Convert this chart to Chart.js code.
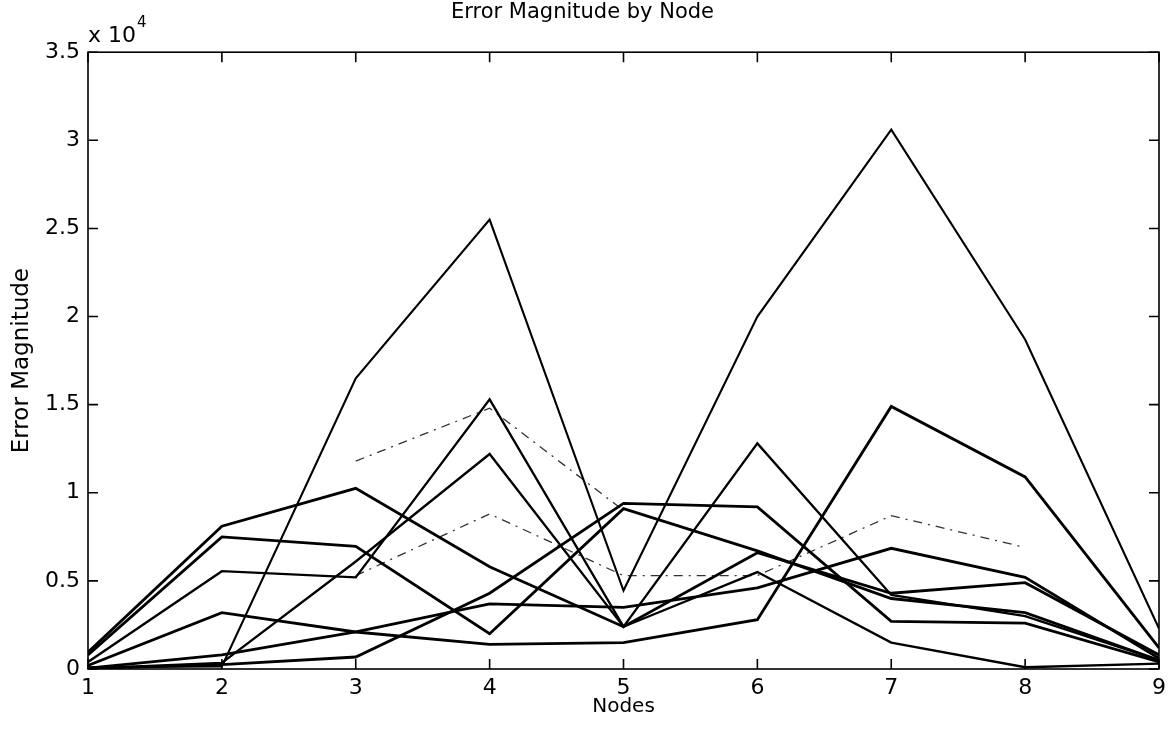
<!DOCTYPE html>
<html>
<head>
<meta charset="utf-8">
<title>Error Magnitude by Node</title>
<script src="https://cdn.jsdelivr.net/npm/chart.js@4.4.1/dist/chart.umd.min.js"></script>
<style>
  html, body { margin: 0; padding: 0; background: #fff; }
  #wrap { width: 1172px; height: 738px; }
</style>
</head>
<body>
<div id="wrap"><canvas id="errChart"></canvas></div>
<script>
// node numbers along the x axis
const nodes = [1, 2, 3, 4, 5, 6, 7, 8, 9];

// error magnitude per node, one array per run
const caseA = [100, 150, 16500, 25500, 4450, 20000, 30600, 18700, 2300];
const caseB = [950, 8100, 10250, 5800, 2400, 6600, 4300, 4900, 800];
const caseC = [800, 7500, 6960, 2000, 9100, 6700, 4000, 3200, 500];
const caseD = [400, 5550, 5200, 15300, 2400, 12800, 4200, 3000, 500];
const caseE = [200, 3200, 2100, 1400, 1500, 2800, 14900, 10900, 1200];
const caseF = [50, 800, 2100, 3700, 3500, 4600, 6850, 5200, 600];
const caseG = [30, 350, 6100, 12200, 2400, 5500, 1500, 100, 300];
const caseH = [30, 250, 680, 4300, 9400, 9200, 2700, 2600, 400];
// dash-dot runs, only partly legible
const caseI = [null, null, 11800, 14800, 9000, null, null, null, null];
const caseJ = [null, null, 5300, 8800, 5300, 5300, 8700, 6900, null];

const yTicks = [0, 5000, 10000, 15000, 20000, 25000, 30000, 35000];

const FONT = '"DejaVu Sans", Arial, sans-serif';

function pts(vals) {
  return nodes.map((n, i) => ({ x: n, y: vals[i] }));
}

function solid(vals, w) {
  return {
    data: pts(vals),
    borderColor: '#000',
    borderWidth: w,
    pointRadius: 0,
    tension: 0,
    spanGaps: false
  };
}

function dashDot(vals) {
  return {
    data: pts(vals),
    borderColor: '#333',
    borderWidth: 1.3,
    borderDash: [9, 6, 2, 6],
    pointRadius: 0,
    tension: 0,
    spanGaps: false
  };
}

// box around the axes, inward tick marks on all sides, and the x10^4 factor
const frameTicks = {
  id: 'frameTicks',
  afterDatasetsDraw(chart) {
    const { ctx, chartArea: a, scales: { x, y } } = chart;
    ctx.save();
    ctx.strokeStyle = '#000';
    ctx.lineWidth = 1.6;
    ctx.strokeRect(a.left, a.top, a.right - a.left, a.bottom - a.top);
    ctx.beginPath();
    x.ticks.forEach(t => {
      const px = x.getPixelForValue(t.value);
      ctx.moveTo(px, a.bottom); ctx.lineTo(px, a.bottom - 10);
      ctx.moveTo(px, a.top); ctx.lineTo(px, a.top + 10);
    });
    y.ticks.forEach(t => {
      const py = y.getPixelForValue(t.value);
      ctx.moveTo(a.left, py); ctx.lineTo(a.left + 10, py);
      ctx.moveTo(a.right, py); ctx.lineTo(a.right - 10, py);
    });
    ctx.stroke();

    ctx.fillStyle = '#000';
    ctx.textBaseline = 'alphabetic';
    ctx.textAlign = 'left';
    ctx.font = '22px ' + FONT;
    ctx.fillText('x 10', a.left, a.top - 10);
    const w = ctx.measureText('x 10').width;
    ctx.font = '15px ' + FONT;
    ctx.fillText('4', a.left + w + 1, a.top - 25);
    ctx.restore();
  }
};

new Chart(document.getElementById('errChart'), {
  type: 'line',
  data: {
    datasets: [
      solid(caseA, 2.1),
      solid(caseB, 2.8),
      solid(caseC, 2.8),
      solid(caseD, 2.3),
      solid(caseE, 2.8),
      solid(caseF, 2.8),
      solid(caseG, 2.3),
      solid(caseH, 2.8),
      dashDot(caseI),
      dashDot(caseJ)
    ]
  },
  options: {
    responsive: true,
    maintainAspectRatio: false,
    animation: false,
    layout: { padding: { top: 0, right: 7, bottom: 0, left: 0 } },
    plugins: {
      legend: { display: false },
      tooltip: { enabled: false },
      title: {
        display: true,
        text: 'Error Magnitude by Node',
        color: '#000',
        font: { family: FONT, size: 21, weight: 'normal' },
        padding: { top: 0, bottom: 27 }
      }
    },
    scales: {
      x: {
        type: 'linear',
        min: 1,
        max: 9,
        afterFit: s => { s.height = 69; },
        grid: { display: false, drawTicks: false },
        border: { display: false },
        ticks: {
          stepSize: 1,
          padding: 6,
          color: '#000',
          font: { family: FONT, size: 22 }
        },
        title: {
          display: true,
          text: 'Nodes',
          color: '#000',
          font: { family: FONT, size: 20 },
          padding: { top: 0, bottom: 19 }
        }
      },
      y: {
        min: 0,
        max: 35000,
        afterFit: s => { s.width = 88; },
        afterBuildTicks: s => { s.ticks = yTicks.map(v => ({ value: v })); },
        grid: { display: false, drawTicks: false },
        border: { display: false },
        ticks: {
          padding: 8,
          color: '#000',
          font: { family: FONT, size: 22 },
          callback: v => v / 10000
        },
        title: {
          display: true,
          text: 'Error Magnitude',
          color: '#000',
          font: { family: FONT, size: 23 },
          padding: { top: 8, bottom: 0 }
        }
      }
    }
  },
  plugins: [frameTicks]
});
</script>
</body>
</html>
